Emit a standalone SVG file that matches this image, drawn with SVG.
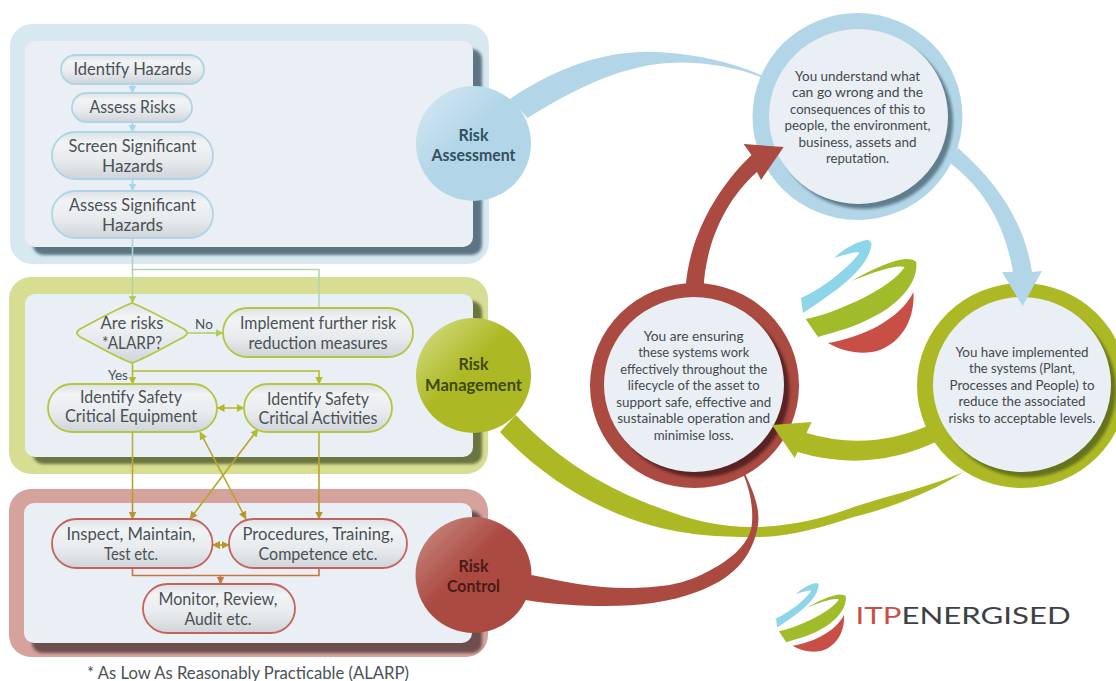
<svg xmlns="http://www.w3.org/2000/svg" xmlns:xlink="http://www.w3.org/1999/xlink" width="1116" height="681" viewBox="0 0 1116 681">
<style>
text{font-family:"Lato","Liberation Sans",sans-serif;text-anchor:middle;fill:#4a5156}
.n{font-size:17.5px}
.s{font-size:13.5px}
.c{font-size:13.5px;fill:#44494e}
.r{font-size:17px;font-weight:700}
.inner{fill:#e9eff4}
.nb{fill:url(#nodeFill);stroke-width:1.8}
.nb.b{stroke:#aed5e7}.nb.g{stroke:#b5c53f}.nb.o{stroke:#c4635c}
.l{fill:none;stroke-width:1.6}
</style>
<defs>
<linearGradient id="nodeFill" x1="0" y1="0" x2="0" y2="1">
<stop offset="0" stop-color="#dde2e6"/><stop offset=".22" stop-color="#f1f3f5"/><stop offset=".6" stop-color="#e8ebee"/><stop offset="1" stop-color="#ced4d9"/>
</linearGradient>
<linearGradient id="gA" x1="0" y1="0" x2="1" y2="1"><stop offset=".1" stop-color="#cfe5f0"/><stop offset=".45" stop-color="#b2d6e8"/></linearGradient>
<linearGradient id="gM" x1="0" y1="0" x2="1" y2="1"><stop offset=".1" stop-color="#cdd877"/><stop offset=".45" stop-color="#adb924"/></linearGradient>
<linearGradient id="gC" x1="0" y1="0" x2="1" y2="1"><stop offset=".1" stop-color="#c4817a"/><stop offset=".45" stop-color="#ab4a41"/></linearGradient>
<linearGradient id="lineDown" gradientUnits="userSpaceOnUse" x1="0" y1="432" x2="0" y2="520"><stop offset="0" stop-color="#b6b532"/><stop offset="1" stop-color="#b8922c"/></linearGradient>
<linearGradient id="lineTop" gradientUnits="userSpaceOnUse" x1="0" y1="238" x2="0" y2="303"><stop offset="0" stop-color="#a9d3dc"/><stop offset="1" stop-color="#b4d48a"/></linearGradient>
<filter id="bl" x="-10%" y="-10%" width="120%" height="120%"><feGaussianBlur stdDeviation="1.6"/></filter>
<marker id="mB" viewBox="0 0 8 8" refX="7.5" refY="4" markerWidth="8" markerHeight="8" markerUnits="userSpaceOnUse" orient="auto-start-reverse"><path d="M0,0L8,4L0,8z" fill="#a9d6ea"/></marker>
<marker id="mL" viewBox="0 0 8 8" refX="7.5" refY="4" markerWidth="8" markerHeight="8" markerUnits="userSpaceOnUse" orient="auto-start-reverse"><path d="M0,0L8,4L0,8z" fill="#b0cc5a"/></marker>
<marker id="mG" viewBox="0 0 8 8" refX="7.5" refY="4" markerWidth="8" markerHeight="8" markerUnits="userSpaceOnUse" orient="auto-start-reverse"><path d="M0,0L8,4L0,8z" fill="#b3bb2c"/></marker>
<marker id="mY" viewBox="0 0 8 8" refX="7.5" refY="4" markerWidth="8" markerHeight="8" markerUnits="userSpaceOnUse" orient="auto-start-reverse"><path d="M0,0L8,4L0,8z" fill="#b8962c"/></marker>
<marker id="mO" viewBox="0 0 8 8" refX="7.5" refY="4" markerWidth="8" markerHeight="8" markerUnits="userSpaceOnUse" orient="auto-start-reverse"><path d="M0,0L8,4L0,8z" fill="#c8763a"/></marker>
<g id="swoosh">
<path fill="#8dd5e8" d="M801,298C825,287 848,268 859.5,253Q858,250 834,258C845,248 858,241 867.4,240Q873,241 871,247C866,272 830,295 803,313Z"/>
<path fill="#a0bc2a" d="M851.7,281C870,270 890,261 904.7,259Q916,259 916.5,263C918,290 885,312 873,317C855,327 835,332 818,337L805.7,319C830,315 890,290 904.7,267C897,264 870,273 851.7,281Z"/>
<path fill="#c84f45" d="M913.4,292C915,315 905,340 880,350C865,355 845,353 828,343C860,338 900,320 913.4,292Z"/>
</g>
</defs>
<rect width="1116" height="681" fill="#fff"/>

<g id="panel-assessment">
<rect x="10" y="24" width="479" height="240" rx="22" fill="#d7e8f1"/>
<rect x="33" y="49" width="449" height="206" rx="10" fill="#5b7583" filter="url(#bl)"/>
<rect class="inner" x="25" y="41" width="448" height="206" rx="10"/>
</g>
<g id="panel-management">
<rect x="9" y="277" width="479" height="197" rx="22" fill="#d7dd92"/>
<rect x="33" y="301" width="449" height="163" rx="10" fill="#6b7440" filter="url(#bl)"/>
<rect class="inner" x="25" y="294" width="448" height="163" rx="10"/>
</g>
<g id="panel-control">
<rect x="9" y="489" width="479" height="168" rx="22" fill="#d5a29c"/>
<rect x="32" y="511" width="450" height="142" rx="10" fill="#6e5050" filter="url(#bl)"/>
<rect class="inner" x="24" y="503" width="448" height="140" rx="10"/>
</g>

<g id="circle-understand">
<ellipse cx="857.5" cy="116.5" rx="105" ry="103.5" fill="#b2d6e8"/>
<ellipse cx="863.5" cy="121.5" rx="89.5" ry="87.5" fill="#5f7d8c" filter="url(#bl)"/>
<ellipse class="inner" cx="858.5" cy="116.5" rx="89.5" ry="87.5"/>
<text class="c"><tspan x="857.6" y="81" textLength="125" lengthAdjust="spacingAndGlyphs">You understand what</tspan><tspan x="857.6" y="97" textLength="131" lengthAdjust="spacingAndGlyphs">can go wrong and the</tspan><tspan x="857.6" y="114" textLength="135" lengthAdjust="spacingAndGlyphs">consequences of this to</tspan><tspan x="857.6" y="130" textLength="146" lengthAdjust="spacingAndGlyphs">people, the environment,</tspan><tspan x="857.6" y="147" textLength="118" lengthAdjust="spacingAndGlyphs">business, assets and</tspan><tspan x="857.6" y="163" textLength="63" lengthAdjust="spacingAndGlyphs">reputation.</tspan></text>
</g>
<g id="circle-ensuring">
<ellipse cx="694.5" cy="385.5" rx="104.5" ry="102.5" fill="#ab4a41"/>
<ellipse cx="699.5" cy="390" rx="90" ry="87.5" fill="#5a2420" filter="url(#bl)"/>
<ellipse class="inner" cx="694" cy="384.5" rx="90" ry="87.5"/>
<text class="c"><tspan x="693.7" y="341" textLength="100" lengthAdjust="spacingAndGlyphs">You are ensuring</tspan><tspan x="693.7" y="357" textLength="111" lengthAdjust="spacingAndGlyphs">these systems work</tspan><tspan x="693.7" y="374" textLength="147" lengthAdjust="spacingAndGlyphs">effectively throughout the</tspan><tspan x="693.7" y="390" textLength="132" lengthAdjust="spacingAndGlyphs">lifecycle of the asset to</tspan><tspan x="693.7" y="407" textLength="155" lengthAdjust="spacingAndGlyphs">support safe, effective and</tspan><tspan x="693.7" y="423" textLength="153" lengthAdjust="spacingAndGlyphs">sustainable operation and</tspan><tspan x="693.7" y="440" textLength="80" lengthAdjust="spacingAndGlyphs">minimise loss.</tspan></text>
</g>
<g id="circle-implemented">
<ellipse cx="1022" cy="385.5" rx="105" ry="102.5" fill="#adb924"/>
<ellipse cx="1027" cy="390" rx="89" ry="87.5" fill="#66731a" filter="url(#bl)"/>
<ellipse class="inner" cx="1022" cy="384.5" rx="89" ry="87.5"/>
<text class="c"><tspan x="1022" y="357" textLength="133" lengthAdjust="spacingAndGlyphs">You have implemented</tspan><tspan x="1022" y="373" textLength="106" lengthAdjust="spacingAndGlyphs">the systems (Plant,</tspan><tspan x="1022" y="390" textLength="145" lengthAdjust="spacingAndGlyphs">Processes and People) to</tspan><tspan x="1022" y="406" textLength="127" lengthAdjust="spacingAndGlyphs">reduce the associated</tspan><tspan x="1022" y="423" textLength="147" lengthAdjust="spacingAndGlyphs">risks to acceptable levels.</tspan></text>
</g>

<g id="connectors">
<path fill="#b2d6e8" d="M510,99C560,65 610,50 657,52Q715,55 761,75L761,77Q715,60 669,63C630,65 585,82 527.5,118Z"/>
<path fill="#b2d6e8" d="M958,148C1000,185 1025,225 1032,272L1042,271L1022.6,306L1002,272L1013,272C1005,225 985,190 950,163Z"/>
<path fill="#ab4a41" d="M685.5,290C688,240 715,190 751.5,155L743.6,144L783.7,147L761,180L757,172C725,200 705,245 703.5,290Z"/>
<path fill="#adb924" d="M932,424Q870,452 806.5,433L811.6,422L772,425L794.7,458L797.5,452Q870,474 940,440Z"/>
<path fill="#adb924" d="M515.7,415C560,462 610,490 657,507C690,520 720,527 751.5,527C790,527 825,518 853.6,507C890,495 930,487 963.6,472C935,490 895,507 853.6,517C820,528 790,537 755,537C715,537 690,535 657,527C600,512 545,480 500,432Z"/>
<path fill="#ab4a41" d="M531.4,575C565,582 595,588 625.7,588C660,588 680,584 696.5,577C730,562 748,545 751.5,527C754,510 750,490 743.6,475L745.6,475C755,495 760,510 758,525C752,560 730,580 696.5,592C670,602 640,606 606,606C580,606 550,604 525.5,600Z"/>

<path class="l" stroke="#a9d6ea" marker-end="url(#mB)" d="M132.5,84V93"/>
<path class="l" stroke="#a9d6ea" marker-end="url(#mB)" d="M132.5,122V132"/>
<path class="l" stroke="#a9d6ea" marker-end="url(#mB)" d="M132.5,179V191"/>
<path class="l" stroke="url(#lineTop)" marker-end="url(#mL)" d="M132.5,238V303"/>
<path class="l" stroke="#b5d6ae" d="M319,308V269.500H132.500"/>
<path class="l" stroke="#b0cc5a" marker-end="url(#mL)" d="M188,333H223"/>
<path class="l" stroke="#b3bb2c" marker-end="url(#mG)" d="M132.500,363V384"/>
<path class="l" stroke="#b3bb2c" marker-end="url(#mG)" d="M132.500,371H319V384"/>
<path class="l" stroke="#b3bb2c" marker-start="url(#mG)" marker-end="url(#mG)" d="M217,408H244"/>
<path class="l" stroke="url(#lineDown)" marker-end="url(#mY)" d="M132.500,432V519"/>
<path class="l" stroke="url(#lineDown)" marker-end="url(#mY)" d="M319,432V519"/>
<path class="l" stroke="#b8a52c" marker-start="url(#mG)" marker-end="url(#mY)" d="M200,432L246,519"/>
<path class="l" stroke="#b8a52c" marker-start="url(#mG)" marker-end="url(#mY)" d="M258,429L190,519"/>
<path class="l" stroke="#b8962c" marker-start="url(#mY)" marker-end="url(#mY)" d="M212.500,545H229"/>
<path class="l" stroke="#c8763a" d="M132.500,568V575.500H319V568"/>
<path class="l" stroke="#c8763a" marker-end="url(#mO)" d="M220.500,575.500V584"/>
</g>

<g id="n-identify-hazards"><rect class="nb b" x="61" y="55" width="143" height="29" rx="14.500"/><text class="n" x="132.500" y="75" textLength="118" lengthAdjust="spacingAndGlyphs">Identify Hazards</text></g>
<g id="n-assess-risks"><rect class="nb b" x="72" y="93" width="120" height="29" rx="14.500"/><text class="n" x="132.500" y="113" textLength="86" lengthAdjust="spacingAndGlyphs">Assess Risks</text></g>
<g id="n-screen"><rect class="nb b" x="52" y="132" width="161" height="47" rx="23.500"/><text class="n"><tspan x="132.500" y="152" textLength="128" lengthAdjust="spacingAndGlyphs">Screen Significant</tspan><tspan x="132.500" y="172" textLength="61" lengthAdjust="spacingAndGlyphs">Hazards</tspan></text></g>
<g id="n-assess-significant"><rect class="nb b" x="52" y="191" width="161" height="47" rx="23.500"/><text class="n"><tspan x="132.500" y="211" textLength="127" lengthAdjust="spacingAndGlyphs">Assess Significant</tspan><tspan x="132.500" y="231" textLength="61" lengthAdjust="spacingAndGlyphs">Hazards</tspan></text></g>

<g id="n-alarp"><path class="nb g" d="M132,303C146,308 168,321 184,329Q190,333 184,337C168,345 146,358 132,363C118,358 96,345 80,337Q74,333 80,329C96,321 118,308 132,303Z"/><text class="n"><tspan x="132" y="329" textLength="63" lengthAdjust="spacingAndGlyphs">Are risks</tspan><tspan x="132" y="349" textLength="60" lengthAdjust="spacingAndGlyphs">*ALARP?</tspan></text></g>
<text class="s" x="204" y="329">No</text>
<text class="s" x="118" y="380">Yes</text>
<g id="n-implement"><rect class="nb g" x="223" y="308" width="190" height="49" rx="24.500"/><text class="n"><tspan x="318" y="329" textLength="156" lengthAdjust="spacingAndGlyphs">Implement further risk</tspan><tspan x="318" y="349" textLength="139" lengthAdjust="spacingAndGlyphs">reduction measures</tspan></text></g>
<g id="n-equipment"><rect class="nb g" x="48" y="384" width="169" height="48" rx="24"/><text class="n"><tspan x="131" y="403" textLength="102" lengthAdjust="spacingAndGlyphs">Identify Safety</tspan><tspan x="131" y="422" textLength="132" lengthAdjust="spacingAndGlyphs">Critical Equipment</tspan></text></g>
<g id="n-activities"><rect class="nb g" x="244" y="384" width="148" height="48" rx="24"/><text class="n"><tspan x="318" y="405" textLength="102" lengthAdjust="spacingAndGlyphs">Identify Safety</tspan><tspan x="318" y="424" textLength="119" lengthAdjust="spacingAndGlyphs">Critical Activities</tspan></text></g>

<g id="n-inspect"><rect class="nb o" x="52" y="519" width="160.500" height="49" rx="24.500"/><text class="n"><tspan x="131" y="540" textLength="129" lengthAdjust="spacingAndGlyphs">Inspect, Maintain,</tspan><tspan x="131" y="560" textLength="54" lengthAdjust="spacingAndGlyphs">Test etc.</tspan></text></g>
<g id="n-procedures"><rect class="nb o" x="229" y="519" width="178" height="49" rx="24.500"/><text class="n"><tspan x="318" y="540" textLength="151" lengthAdjust="spacingAndGlyphs">Procedures, Training,</tspan><tspan x="318" y="560" textLength="119" lengthAdjust="spacingAndGlyphs">Competence etc.</tspan></text></g>
<g id="n-monitor"><rect class="nb o" x="143" y="584" width="152" height="49" rx="24.500"/><text class="n"><tspan x="218" y="605" textLength="119" lengthAdjust="spacingAndGlyphs">Monitor, Review,</tspan><tspan x="218" y="625" textLength="67" lengthAdjust="spacingAndGlyphs">Audit etc.</tspan></text></g>

<g id="risk-assessment"><circle cx="473.500" cy="143.500" r="57.500" fill="url(#gA)"/><text class="r" style="fill:#33505f"><tspan x="473.500" y="141" textLength="30" lengthAdjust="spacingAndGlyphs">Risk</tspan><tspan x="473.500" y="161" textLength="84" lengthAdjust="spacingAndGlyphs">Assessment</tspan></text></g>
<g id="risk-management"><circle cx="473.500" cy="375.500" r="57.500" fill="url(#gM)"/><text class="r" style="fill:#3f4a10"><tspan x="473.500" y="370" textLength="30" lengthAdjust="spacingAndGlyphs">Risk</tspan><tspan x="473.500" y="391" textLength="97" lengthAdjust="spacingAndGlyphs">Management</tspan></text></g>
<g id="risk-control"><circle cx="473.500" cy="575" r="58" fill="url(#gC)"/><text class="r" style="fill:#4a1a18"><tspan x="473.500" y="572" textLength="30" lengthAdjust="spacingAndGlyphs">Risk</tspan><tspan x="473.500" y="592" textLength="53" lengthAdjust="spacingAndGlyphs">Control</tspan></text></g>

<text class="n" x="248" y="679" textLength="322" lengthAdjust="spacingAndGlyphs">* As Low As Reasonably Practicable (ALARP)</text>

<use id="logo-large" href="#swoosh" xlink:href="#swoosh"/>
<use id="logo-small" href="#swoosh" xlink:href="#swoosh" transform="translate(291.400,436.600) scale(.605,.61)"/>
<text x="855.600" y="624" style="font-size:22.500px;font-weight:400;text-anchor:start;fill:#3c4145" textLength="215" lengthAdjust="spacingAndGlyphs"><tspan style="fill:#c94f46">ITP</tspan>ENERGISED</text>
</svg>
